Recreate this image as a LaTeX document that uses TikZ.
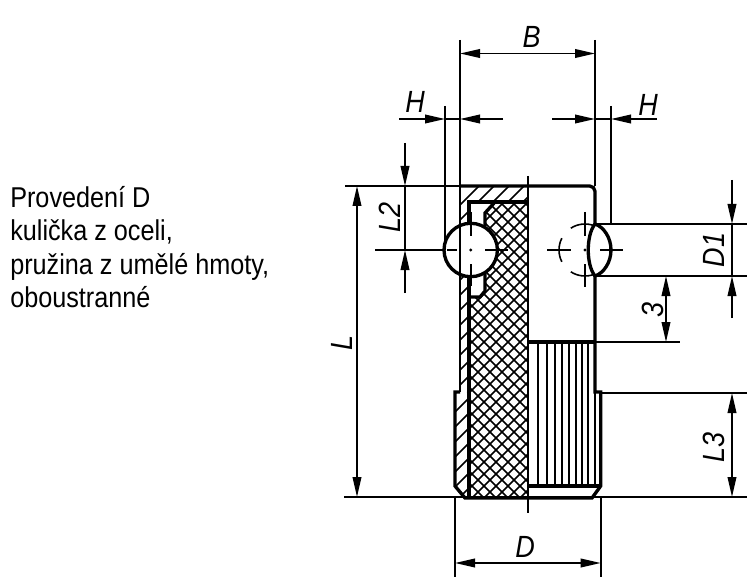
\documentclass[tikz,border=0pt]{standalone}
\usepackage{fontspec}
\setmainfont[FakeStretch=.88]{Liberation Sans}
\usetikzlibrary{arrows.meta}
\tikzset{
	contour/.style={line width=2.5pt},
	wall/.style={line width=1.6pt},
	thinline/.style={line width=1.2pt},
	hatch/.style={line width=1.1pt},
	dimtext/.style={font=\fontsize{23}{23}\selectfont\itshape, inner sep=0pt},
}
\begin{document}
\begin{tikzpicture}[x=.75pt,y=-.75pt,>={Triangle[length=15pt,width=6.5pt]}]
	\useasboundingbox (0,0) rectangle (750,581);
	\node [anchor=north west, align=left, inner sep=0pt, font=\fontsize{21.5}{25}\selectfont] (note) at (10,186) {Provedení D\\kulička z oceli,\\pružina z umělé hmoty,\\oboustranné};
	% hatching
	\begin{scope}
		\clip (495,202) -- (527.7,202) -- (527.7,498) -- (469,498) -- (469,297) -- (480,297) -- (485,291) -- (485,213) -- cycle;
		\foreach \k in {0,12,...,432} {
			\draw [hatch] (\k+100,498) -- ++(400,-400);
			\draw [hatch] (\k+50,100) -- ++(400,400);
		}
	\end{scope}
	\begin{scope}
		\clip (460,186) -- (527.7,186) -- (527.7,202) -- (469,202) -- (469,392) -- (460,392) -- cycle;
		\foreach \k in {0,15,...,225} {
			\draw [thinline] (440,\k+225) -- ++(100,-100);
		}
	\end{scope}
	\begin{scope}
		\clip (455,392) -- (469,392) -- (469,498) -- (465,498) -- (455,486) -- cycle;
		\foreach \k in {0,15,...,105} {
			\draw [thinline] (445,\k+422) -- ++(30,-30);
		}
	\end{scope}
	\foreach \k in {538,547,555,562,569,576,582,588} {
		\draw [thinline] (\k,342) -- (\k,486);
	}
	% ball
	\draw [contour, fill=white] (470.7,250) circle (26.7);
	% outline
	\draw [wall] (460,186) -- (460,392);
	\draw [contour, rounded corners=4] (460,186) -- (595,186) -- (595,224);
	\draw [contour] (595,276) -- (595,392) -- (600.7,392) -- (600.7,486) -- (592,498) -- (465,498) -- (455,486) -- (455,392) -- (460,392);
	\draw [contour] (469,224) -- (469,202) -- (527.7,202);
	\draw [contour] (469,276) -- (469,498);
	\draw [contour] (495,202) -- (485,213) -- (485,226);
	\draw [contour] (485,274) -- (485,291) -- (480,297) -- (469,297);
	\draw [contour] (527.7,342) -- (595,342);
	\draw [contour] (527.7,486) -- (600.7,486);
	\draw [thinline] (595,392) -- (595,486);
	\draw [wall] (527.7,176) -- (527.7,513);
	% right ball
	\draw [contour] (595,224) .. controls (604,227) and (611,238) .. (611,250) .. controls (611,262) and (604,273) .. (595,276);
	\draw [contour] (595,224) .. controls (586,235) and (586,265) .. (595,276);
	\foreach \a/\b in {70/123,153/207,237/290} {
		\draw [thinline] ({585+26*cos(\a)},{250-26*sin(\a)}) arc [start angle=-\a, end angle=-\b, radius=26];
	}
	% center lines
	\draw [thinline] (375,250) -- (445,250);
	\draw [thinline] (447,250) -- (457,250) (485,250) -- (508,250);
	\draw [thinline] (470.7,212) -- (470.7,236) (470.7,264) -- (470.7,286);
	\draw [thinline] (547,250) -- (571,250) (600,250) -- (623,250);
	\draw [thinline] (585,212) -- (585,236) (585,264) -- (585,287);
	\fill (470.7,250) circle (1.7) (585,250) circle (1.7);
	% extension lines
	\draw [thinline] (345,186) -- (460,186);
	\draw [thinline] (344,497) -- (747,497);
	\draw [thinline] (460,40) -- (460,186);
	\draw [thinline] (595,40) -- (595,186);
	\draw [thinline] (445,106) -- (445,250);
	\draw [thinline] (611,106) -- (611,224);
	\draw [thinline] (595,224) -- (747,224);
	\draw [thinline] (595,276) -- (747,276);
	\draw [thinline] (595,342) -- (680,342);
	\draw [thinline] (600,393) -- (747,393);
	\draw [thinline] (455,497) -- (455,577);
	\draw [thinline] (600.7,497) -- (600.7,577);
	% dimensions
	\draw [thinline, <->] (460,53.5) -- (595,53.5) node [pos=0.53, above=4pt, dimtext] (dimB) {B};
	\draw [thinline, ->] (399,119) -- (445,119);
	\draw [thinline] (445,119) -- (460,119);
	\draw [thinline, ->] (503,119) -- (460,119);
	\draw [thinline, ->] (552,119) -- (595,119);
	\draw [thinline] (595,119) -- (611,119);
	\draw [thinline, ->] (657,119) -- (611,119);
	\node [dimtext] (dimHl) at (415,102) {H};
	\node [dimtext] (dimHr) at (648,105) {H};
	\draw [thinline, <->] (357,186) -- (357,497);
	\node [dimtext, rotate=90] (dimL) at (342,343) {L};
	\draw [thinline, ->] (405,143) -- (405,186);
	\draw [thinline, ->] (405,293) -- (405,250);
	\draw [thinline] (405,186) -- (405,250);
	\node [dimtext, rotate=90] (dimLtwo) at (390,217) {L2};
	\draw [thinline, ->] (732,180) -- (732,224);
	\draw [thinline, ->] (732,318) -- (732,276);
	\draw [thinline] (732,224) -- (732,276);
	\node [dimtext, rotate=90] (dimDone) at (714,250) {D1};
	\draw [thinline, <->] (666,276) -- (666,342);
	\node [dimtext, rotate=90] (dimThree) at (653,310) {3};
	\draw [thinline, <->] (732,393) -- (732,497);
	\node [dimtext, rotate=90] (dimLthree) at (714,447) {L3};
	\draw [thinline, <->] (455,563) -- (600.7,563);
	\node [dimtext] (dimD) at (525,547) {D};
\end{tikzpicture}
\end{document}
